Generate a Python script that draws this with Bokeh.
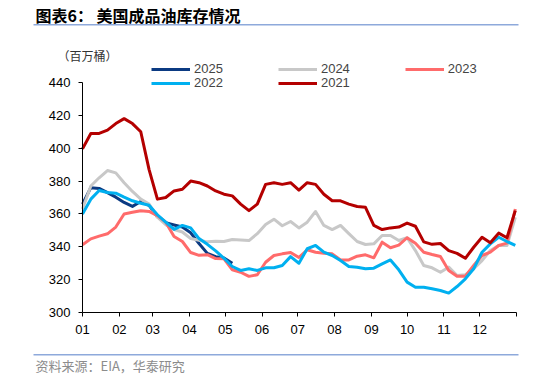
from bokeh.plotting import figure
from bokeh.models import (Range1d, FixedTicker, Label, Legend, LegendItem,
                          BoxAnnotation)
from bokeh.embed import file_html
from bokeh.resources import INLINE

# ---- data (weekly, million barrels) ----
weeks_per_year = 53
week_day = [7 * i for i in range(weeks_per_year)]

y2021 = [399.6, 409, 409, 411, 415, 418, 415, 410, 387, 369, 370, 374, 375,
         380, 379, 377, 374, 372, 371, 366, 362, 366, 378, 379, 378, 379,
         374.5, 379, 378, 372, 368, 368, 366, 364.5, 364, 353, 350.5, 351.5,
         352, 354.4, 352.5, 343, 341.5, 342, 337.7, 336, 333, 339.7, 345.8,
         342.4, 348.3, 345.5, 362]
y2022 = [360, 369, 374.3, 373, 372.6, 370.2, 368, 366.5, 365.3, 359.5, 355,
         350.6, 353, 351.5, 345, 341.5, 337.5, 333, 328, 325.6, 326.6, 325.6,
         327.2, 327.2, 328.6, 334, 330, 338.8, 340.8, 336.7, 334.7, 331.6, 328,
         327.6, 326.6, 327, 329.6, 332, 326, 318.5, 315.4, 315.4, 314.4, 313.4,
         311.8, 315.8, 320.5, 326.6, 336.7, 341.8, 345.8, 343.2, 340.8]
y2023 = [341.2, 344.8, 346.5, 347.9, 352, 360, 361, 361.9, 361.5, 359, 355,
         346.3, 343.2, 336.5, 334.8, 335.2, 332.8, 332.7, 326, 324.5, 322, 323,
         330.6, 334.7, 335.7, 336.5, 333.5, 338.2, 336.7, 336.1, 335.7, 332,
         332, 334.3, 335.1, 333.3, 342.8, 339.4, 341, 345.5, 342.2, 336.7,
         335.3, 334.1, 325.6, 322.1, 322.1, 328.6, 334.7, 336.7, 340.8, 342.2,
         363]
y2024 = [363, 377, 382, 386.4, 385, 379, 373.7, 369, 366, 358, 353.5, 350.5,
         349, 345, 344, 343, 343.3, 343.2, 344.4, 344.2, 343.8, 348, 353.6,
         356.8, 352.8, 355.4, 351.5, 355, 361.5, 353, 350.5, 353, 348, 343.2,
         341.4, 341.8, 346.9, 346.9, 343.8, 345.5, 337.7, 328.6, 327.2, 324.5,
         327.6, 322.5, 323, 326.6, 331.6, 337.7, 340.8, 340.8, 358]
y2025 = [366, 376, 375.5, 373, 370.2, 367, 364.6, 367.6, 365.2, 358.2, 354.7,
         353.3, 352, 348.5, 342, 336, 334, 333.2, 330]

month_start_days = [0, 31, 59, 90, 120, 151, 181, 212, 243, 273, 304, 334, 365]
month_labels = ["01", "02", "03", "04", "05", "06", "07", "08", "09", "10",
                "11", "12", ""]
y_ticks = [300, 320, 340, 360, 380, 400, 420, 440]
x_min, x_max = 0, 365
y_min, y_max = 300, 440

series = [("2025", y2025, "#0B3A82"),
          ("2024", y2024, "#C8C8C8"),
          ("2023", y2023, "#FF6B6B"),
          ("2022", y2022, "#00B0F0"),
          ("2021", y2021, "#B40000")]

FONT = "Liberation Sans"
CJK = "Noto Sans CJK SC"
W, H = 534, 378
# page-pixel placement of the plotting area
AX_LEFT, AX_RIGHT, AX_TOP, AX_BOTTOM = 82, 516, 82, 312
kx = (AX_RIGHT - AX_LEFT) / (x_max - x_min)
ky = (AX_BOTTOM - AX_TOP) / (y_max - y_min)
x_range = Range1d(x_min - AX_LEFT / kx, x_max + (W - AX_RIGHT) / kx)
y_range = Range1d(y_min - (H - AX_BOTTOM) / ky, y_max + AX_TOP / ky)

p = figure(width=W, height=H, output_backend="svg", toolbar_location=None,
           title=None, x_range=x_range, y_range=y_range, min_border=0)
p.outline_line_color = None
p.xgrid.visible = False
p.ygrid.visible = False

renderers = {}
for name, ys, color in series:
    r = p.line(week_day[:len(ys)], ys, line_color=color, line_width=3,
               line_join="round")
    renderers[name] = r

for ax in (p.xaxis[0], p.yaxis[0]):
    ax.axis_line_color = "black"
    ax.major_tick_line_color = "black"
    ax.minor_tick_line_color = None
    ax.major_tick_in = 0
    ax.major_tick_out = 4
    ax.major_label_text_font = FONT
    ax.major_label_text_font_size = "13px"
    ax.major_label_text_color = "#000000"
    ax.major_label_standoff = 8

p.xaxis[0].ticker = FixedTicker(ticks=month_start_days)
p.xaxis[0].major_label_overrides = {d: lab for d, lab in zip(month_start_days, month_labels)}
p.xaxis[0].bounds = (x_min, x_max)
p.xaxis[0].fixed_location = y_min
p.yaxis[0].ticker = FixedTicker(ticks=y_ticks)
p.yaxis[0].bounds = (y_min, y_max)
p.yaxis[0].fixed_location = x_min


def sy(page_y):
    return H - page_y


leg_common = dict(orientation="horizontal", padding=0, margin=0, spacing=55,
                  glyph_width=39, glyph_height=14, label_height=14,
                  label_standoff=4, label_text_font=FONT,
                  label_text_font_size="13px", border_line_alpha=0,
                  background_fill_alpha=0)
leg1 = Legend(items=[LegendItem(label=n, renderers=[renderers[n]]) for n in ("2025", "2024", "2023")],
              location=(151, sy(76)), **leg_common)
leg2 = Legend(items=[LegendItem(label=n, renderers=[renderers[n]]) for n in ("2022", "2021")],
              location=(151, sy(90)), **leg_common)
p.add_layout(leg1)
p.add_layout(leg2)

# header / footer
p.add_layout(Label(x=35, y=sy(14), x_units="screen", y_units="screen",
                   text="图表6：  美国成品油库存情况", text_font=CJK,
                   text_font_size="16px", text_font_style="bold",
                   text_color="#000000", text_baseline="middle"))
p.add_layout(Label(x=57, y=sy(55), x_units="screen", y_units="screen",
                   text="（百万桶）", text_font=CJK, text_font_size="12px",
                   text_color="#333333", text_baseline="middle"))
p.add_layout(Label(x=35, y=sy(365), x_units="screen", y_units="screen",
                   text="资料来源：EIA，华泰研究", text_font=CJK,
                   text_font_size="13px", text_color="#8C8C8C",
                   text_baseline="middle"))
for top_y in (23.5, 353.5):
    p.add_layout(BoxAnnotation(left=33, right=518, top=sy(top_y),
                               bottom=sy(top_y + 1.5), left_units="screen",
                               right_units="screen", top_units="screen",
                               bottom_units="screen", fill_color="#8EA9DB",
                               fill_alpha=1, line_alpha=0))

open("out.html", "w").write(file_html(p, INLINE))
